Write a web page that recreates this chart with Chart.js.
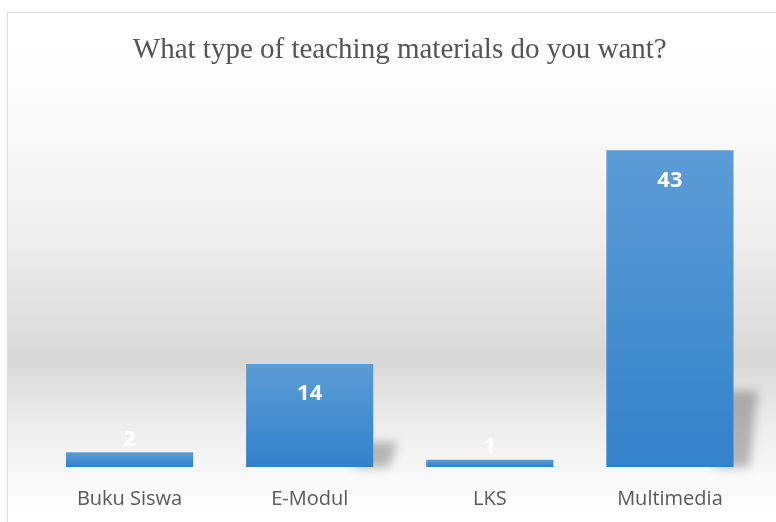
<!DOCTYPE html>
<html>
<head>
<meta charset="utf-8">
<script src="https://cdn.jsdelivr.net/npm/chart.js@4"></script>
<style>
  html, body { margin: 0; padding: 0; background: #fff; overflow: hidden; width: 776px; height: 522px; }
  #frame {
    position: absolute; left: 7px; top: 12px;
    width: 770px; height: 532px;
    border-left: 1px solid #d9d9d9; border-top: 1px solid #d9d9d9;
  }
</style>
</head>
<body>
<div id="frame"><canvas id="chart" width="770" height="532"></canvas></div>
<script>
const categories = ["Buku Siswa", "E-Modul", "LKS", "Multimedia"];
const answers = [2, 14, 1, 43];
const chartTitle = "What type of teaching materials do you want?";

const ctx = document.getElementById("chart").getContext("2d");

// grey band behind the plot, like the original sheet style
const backdrop = {
  id: "backdrop",
  beforeDraw(chart) {
    const c = chart.ctx;
    const h = 510;
    const g = c.createLinearGradient(0, 0, 0, h);
    g.addColorStop(0, "#ffffff");
    g.addColorStop(0.2, "#fbfbfb");
    g.addColorStop(0.45, "#eeeeee");
    g.addColorStop(0.68, "#d8d8d8");
    g.addColorStop(0.8, "#ececec");
    g.addColorStop(0.92, "#fafafa");
    g.addColorStop(1, "#ffffff");
    c.save();
    c.fillStyle = g;
    c.fillRect(0, 0, chart.width, chart.height);
    c.restore();
  }
};

// soft perspective shadow to the right of each bar
const barShadow = {
  id: "barShadow",
  beforeDatasetsDraw(chart) {
    const c = chart.ctx;
    const meta = chart.getDatasetMeta(0);
    c.save();
    c.filter = "blur(5px)";
    c.fillStyle = "rgba(0,0,0,0.26)";
    meta.data.forEach((bar) => {
      const p = bar.getProps(["x", "y", "base", "width"], true);
      if (p.base - p.y < 30) return;
      const right = p.x + p.width / 2;
      const hgt = (p.base - p.y) * 0.24;
      c.beginPath();
      c.moveTo(right - 20, p.base);
      c.lineTo(right - 10, p.base - hgt);
      c.lineTo(right + 24, p.base - hgt);
      c.lineTo(right + 16, p.base);
      c.closePath();
      c.fill();
    });
    c.restore();
  }
};

const valueLabels = {
  id: "valueLabels",
  afterDatasetsDraw(chart) {
    const c = chart.ctx;
    const meta = chart.getDatasetMeta(0);
    c.save();
    c.fillStyle = "#ffffff";
    c.font = "bold 22px 'Open Sans', Lato, sans-serif";
    c.textAlign = "center";
    c.textBaseline = "middle";
    meta.data.forEach((bar, i) => {
      const p = bar.getProps(["x", "y", "base"], true);
      const tall = p.base - p.y > 45;
      const y = tall ? p.y + 30 : p.y - 13;
      c.fillText(String(answers[i]), p.x, y);
    });
    c.restore();
  }
};

new Chart(ctx, {
  type: "bar",
  data: {
    labels: categories,
    datasets: [
      {
        data: answers,
        backgroundColor: (context) => {
          const chart = context.chart;
          const y = chart.scales.y;
          if (!chart.chartArea || !y) return "#4a90d2";
          const top = y.getPixelForValue(context.raw);
          const base = y.getPixelForValue(0);
          const g = chart.ctx.createLinearGradient(0, top, 0, base);
          g.addColorStop(0, "#5c9cd6");
          g.addColorStop(1, "#3381ca");
          return g;
        },
        borderWidth: 0,
        categoryPercentage: 1,
        barPercentage: 0.706
      }
    ]
  },
  options: {
    responsive: false,
    animation: false,
    layout: { padding: { left: 31.5, right: 18, top: 0, bottom: 14 } },
    plugins: {
      legend: { display: false },
      tooltip: { enabled: false },
      title: {
        display: true,
        text: chartTitle,
        color: "#555555",
        font: { family: "'Liberation Serif', 'Times New Roman', serif", size: 29, weight: "normal" },
        padding: { top: 20, bottom: 31 }
      }
    },
    scales: {
      x: {
        grid: { display: false, drawTicks: false },
        border: { display: false },
        ticks: {
          color: "#595959",
          padding: 20,
          font: { family: "'Open Sans', Lato, sans-serif", size: 20 }
        }
      },
      y: {
        display: false,
        min: 0,
        max: 50
      }
    }
  },
  plugins: [backdrop, barShadow, valueLabels]
});
</script>
</body>
</html>
